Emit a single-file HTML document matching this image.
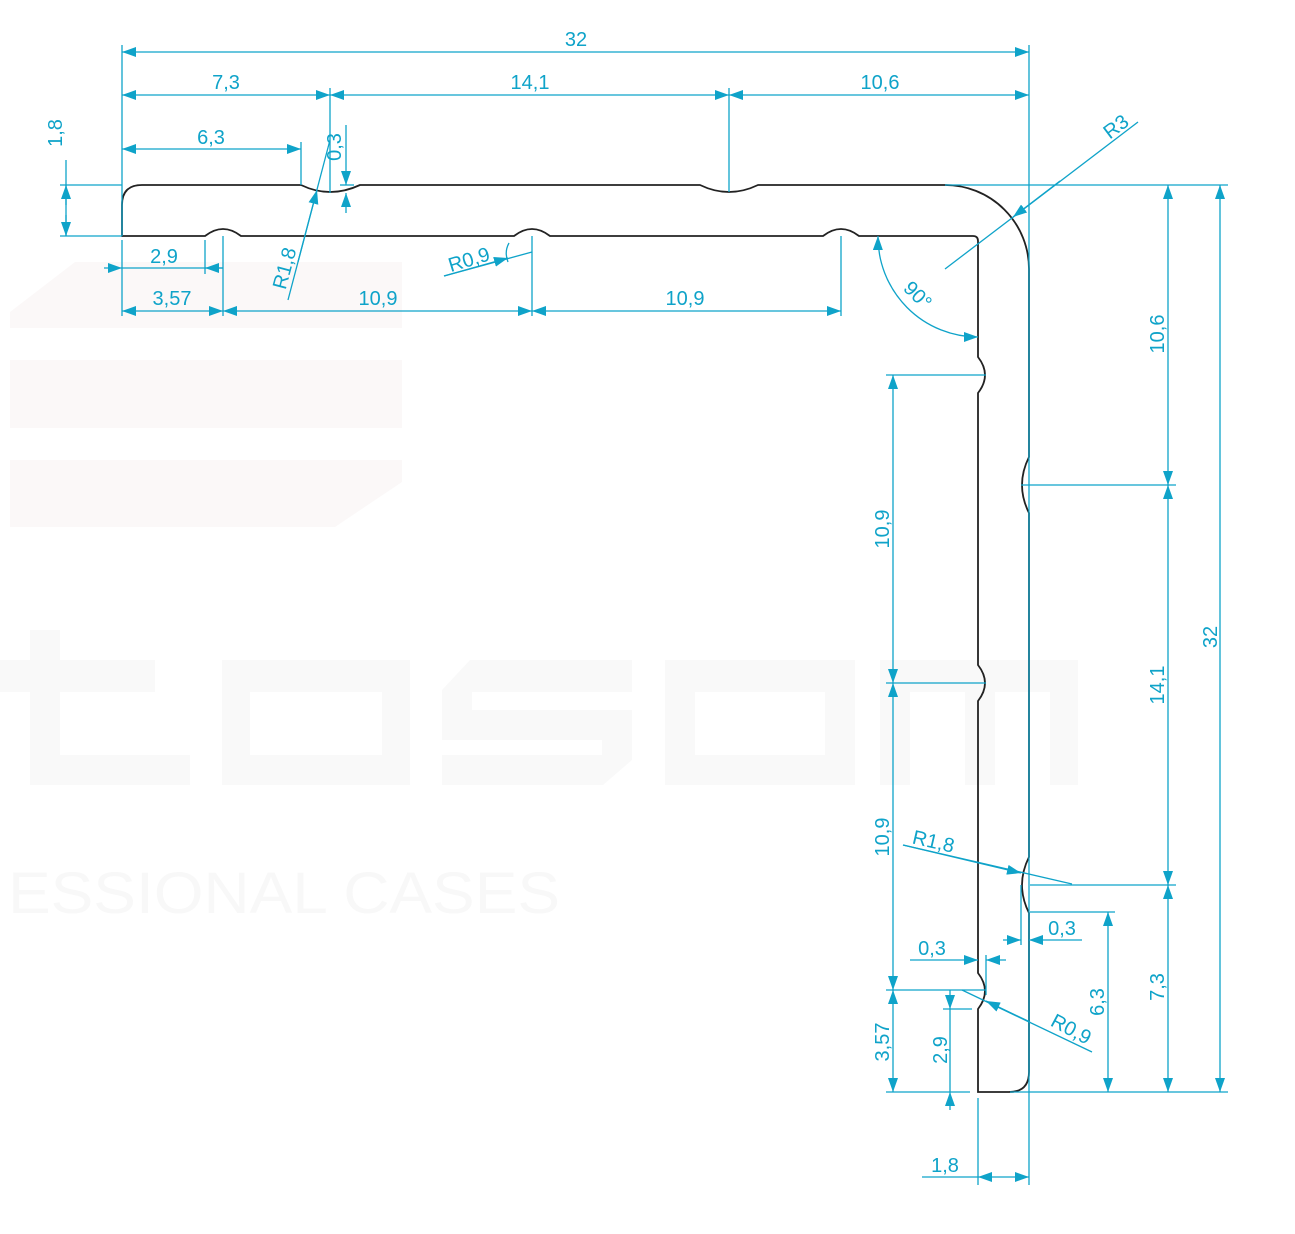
<!DOCTYPE html>
<html><head><meta charset="utf-8"><style>
html,body{margin:0;padding:0;background:#fff;}
svg{display:block;}
.d{stroke:#0fa3c9;stroke-width:1.3;fill:none;}
.t{fill:#0fa3c9;font-family:"Liberation Sans",sans-serif;font-size:20px;text-anchor:middle;}
</style></head><body>
<svg width="1295" height="1234" viewBox="0 0 1295 1234" xmlns="http://www.w3.org/2000/svg">
<defs>
<marker id="a" viewBox="0 0 14 10" refX="14" refY="5" markerWidth="14" markerHeight="10" markerUnits="userSpaceOnUse" orient="auto-start-reverse">
<path d="M0,0 L14,5 L0,10 Z" fill="#0fa3c9"/></marker>
</defs>
<!-- watermark -->
<g fill="#fbf8f8">
<path d="M75,262 L402,262 L402,328 L10,328 L10,312 Z"/>
<rect x="10" y="360" width="392" height="68"/>
<path d="M10,460 L402,460 L402,482 L335,527 L10,527 Z"/>
</g>
<g fill="#f9f9f9">
<path d="M30,630 L60,630 L60,660 L155,660 L155,692 L60,692 L60,755 L190,755 L190,785 L30,785 L30,692 L0,692 L0,660 L30,660 Z"/>
<path fill-rule="evenodd" d="M222,660 L410,660 L410,785 L222,785 Z M250,692 L250,755 L382,755 L382,692 Z"/>
<path d="M442,690 L470,660 L632,660 L632,692 L472,692 L472,710 L632,710 L632,760 L603,785 L442,785 L442,755 L602,755 L602,740 L442,740 Z"/>
<path fill-rule="evenodd" d="M665,660 L855,660 L855,785 L665,785 Z M695,692 L695,755 L825,755 L825,692 Z"/>
<path d="M880,660 L1078,660 L1078,785 L1050,785 L1050,692 L995,692 L995,785 L965,785 L965,692 L910,692 L910,785 L880,785 Z"/>
<text x="8" y="913" font-family="Liberation Sans,sans-serif" font-size="58" fill="#f8f8f8" textLength="552" lengthAdjust="spacingAndGlyphs">ESSIONAL CASES</text>
</g>
<!-- profile -->
<path d="M122,236 L122,205 Q122,185 142,185 L301,185 Q330,199 360,185 L700,185 Q729,199 758,185 L945,185 A84,84 0 0 1 1029,269 L1029,457 Q1015,485 1029,513 L1029,857 Q1015,885 1029,913 L1029,1072 Q1029,1092 1009,1092 L978,1092 L978,1009 Q992,991 978,973 L978,701 Q992,683 978,665 L978,393 Q992,375 978,357 L978,241 Q978,236 973,236 L859,236 Q841,222 823,236 L550,236 Q532,222 514,236 L241,236 Q223,222 205,236 Z" fill="none" stroke="#222" stroke-width="1.8"/>
<g class="d">
<line x1="122" y1="45" x2="122" y2="236"/>
<line x1="1029" y1="45" x2="1029" y2="1185"/>
<line x1="122" y1="52" x2="1029" y2="52" marker-start="url(#a)" marker-end="url(#a)"/>
<line x1="330" y1="88" x2="330" y2="193"/>
<line x1="729" y1="88" x2="729" y2="192"/>
<line x1="122" y1="95" x2="330" y2="95" marker-start="url(#a)" marker-end="url(#a)"/>
<line x1="330" y1="95" x2="729" y2="95" marker-start="url(#a)" marker-end="url(#a)"/>
<line x1="729" y1="95" x2="1029" y2="95" marker-start="url(#a)" marker-end="url(#a)"/>
<line x1="301" y1="142" x2="301" y2="185"/>
<line x1="122" y1="149" x2="301" y2="149" marker-start="url(#a)" marker-end="url(#a)"/>
<line x1="346" y1="125" x2="346" y2="185" marker-end="url(#a)"/>
<line x1="346" y1="213" x2="346" y2="193" marker-end="url(#a)"/>
<line x1="340" y1="185" x2="354" y2="185"/>
<line x1="288" y1="300" x2="330" y2="140"/>
<line x1="298" y1="262" x2="317" y2="190" marker-end="url(#a)"/>
<line x1="60" y1="185" x2="122" y2="185"/>
<line x1="60" y1="236" x2="122" y2="236"/>
<line x1="66" y1="160" x2="66" y2="236"/>
<line x1="66" y1="205" x2="66" y2="185" marker-end="url(#a)"/>
<line x1="66" y1="215" x2="66" y2="236" marker-end="url(#a)"/>
<line x1="205" y1="240" x2="205" y2="274"/>
<line x1="223" y1="236" x2="223" y2="316"/>
<line x1="532" y1="236" x2="532" y2="316"/>
<line x1="841" y1="236" x2="841" y2="316"/>
<line x1="122" y1="240" x2="122" y2="316"/>
<line x1="104" y1="268" x2="122" y2="268" marker-end="url(#a)"/>
<line x1="122" y1="268" x2="223" y2="268"/>
<line x1="223" y1="268" x2="205" y2="268" marker-end="url(#a)"/>
<line x1="122" y1="311" x2="223" y2="311" marker-start="url(#a)" marker-end="url(#a)"/>
<line x1="223" y1="311" x2="532" y2="311" marker-start="url(#a)" marker-end="url(#a)"/>
<line x1="532" y1="311" x2="841" y2="311" marker-start="url(#a)" marker-end="url(#a)"/>
<line x1="444" y1="276" x2="532" y2="252"/>
<line x1="444" y1="276" x2="508" y2="258" marker-end="url(#a)"/>
<path d="M509,243 Q504,252 508,262"/>
<path d="M878,236 A100,100 0 0 0 978,337" marker-start="url(#a)" marker-end="url(#a)"/>
<line x1="945" y1="269" x2="1138" y2="122"/>
<line x1="1060" y1="181" x2="1013" y2="217" marker-end="url(#a)"/>
<line x1="945" y1="185" x2="1228" y2="185"/>
<line x1="1010" y1="1092" x2="1228" y2="1092"/>
<line x1="1220" y1="185" x2="1220" y2="1092" marker-start="url(#a)" marker-end="url(#a)"/>
<line x1="1021" y1="485" x2="1176" y2="485"/>
<line x1="1030" y1="885" x2="1176" y2="885"/>
<line x1="1168" y1="185" x2="1168" y2="485" marker-start="url(#a)" marker-end="url(#a)"/>
<line x1="1168" y1="485" x2="1168" y2="885" marker-start="url(#a)" marker-end="url(#a)"/>
<line x1="1168" y1="885" x2="1168" y2="1092" marker-start="url(#a)" marker-end="url(#a)"/>
<line x1="1030" y1="912" x2="1115" y2="912"/>
<line x1="1108" y1="912" x2="1108" y2="1092" marker-start="url(#a)" marker-end="url(#a)"/>
<line x1="1021" y1="885" x2="1021" y2="945"/>
<line x1="1003" y1="940" x2="1021" y2="940" marker-end="url(#a)"/>
<line x1="1082" y1="940" x2="1029" y2="940" marker-end="url(#a)"/>
<line x1="903" y1="845" x2="1072" y2="884"/>
<line x1="903" y1="845" x2="1021" y2="873" marker-end="url(#a)"/>
<line x1="886" y1="375" x2="986" y2="375"/>
<line x1="886" y1="683" x2="986" y2="683"/>
<line x1="886" y1="990" x2="986" y2="990"/>
<line x1="886" y1="1092" x2="970" y2="1092"/>
<line x1="893" y1="375" x2="893" y2="683" marker-start="url(#a)" marker-end="url(#a)"/>
<line x1="893" y1="683" x2="893" y2="990" marker-start="url(#a)" marker-end="url(#a)"/>
<line x1="893" y1="990" x2="893" y2="1092" marker-start="url(#a)" marker-end="url(#a)"/>
<line x1="943" y1="1009" x2="972" y2="1009"/>
<line x1="950" y1="990" x2="950" y2="1009" marker-end="url(#a)"/>
<line x1="950" y1="1110" x2="950" y2="1092" marker-end="url(#a)"/>
<line x1="950" y1="1009" x2="950" y2="1092"/>
<line x1="986" y1="955" x2="986" y2="995"/>
<line x1="910" y1="960" x2="978" y2="960" marker-end="url(#a)"/>
<line x1="1006" y1="960" x2="986" y2="960" marker-end="url(#a)"/>
<line x1="962" y1="990" x2="1092" y2="1052"/>
<line x1="1030" y1="1022" x2="986" y2="1001" marker-end="url(#a)"/>
<line x1="978" y1="1098" x2="978" y2="1185"/>
<line x1="922" y1="1177" x2="978" y2="1177"/>
<line x1="978" y1="1177" x2="1029" y2="1177" marker-start="url(#a)" marker-end="url(#a)"/>
</g>
<g class="t">
<text x="576" y="46">32</text>
<text x="226" y="89">7,3</text>
<text x="530" y="89">14,1</text>
<text x="880" y="89">10,6</text>
<text x="211" y="144">6,3</text>
<text x="164" y="263">2,9</text>
<text x="172" y="305">3,57</text>
<text x="378" y="305">10,9</text>
<text x="685" y="305">10,9</text>
<text x="932" y="955">0,3</text>
<text x="1062" y="935">0,3</text>
<text x="945" y="1172">1,8</text>
<text transform="translate(62,133) rotate(-90)">1,8</text>
<text transform="translate(341,147) rotate(-90)">0,3</text>
<text transform="translate(291,270) rotate(-75)">R1,8</text>
<text transform="translate(471,266) rotate(-17)">R0,9</text>
<text transform="translate(913,300) rotate(45)">90°</text>
<text transform="translate(1120,132) rotate(-37)">R3</text>
<text transform="translate(1217,637) rotate(-90)">32</text>
<text transform="translate(1164,334) rotate(-90)">10,6</text>
<text transform="translate(1164,685) rotate(-90)">14,1</text>
<text transform="translate(1164,987) rotate(-90)">7,3</text>
<text transform="translate(1104,1002) rotate(-90)">6,3</text>
<text transform="translate(889,529) rotate(-90)">10,9</text>
<text transform="translate(889,837) rotate(-90)">10,9</text>
<text transform="translate(889,1042) rotate(-90)">3,57</text>
<text transform="translate(947,1050) rotate(-90)">2,9</text>
<text transform="translate(932,848) rotate(13)">R1,8</text>
<text transform="translate(1068,1035) rotate(28)">R0,9</text>
</g>
</svg>
</body></html>
